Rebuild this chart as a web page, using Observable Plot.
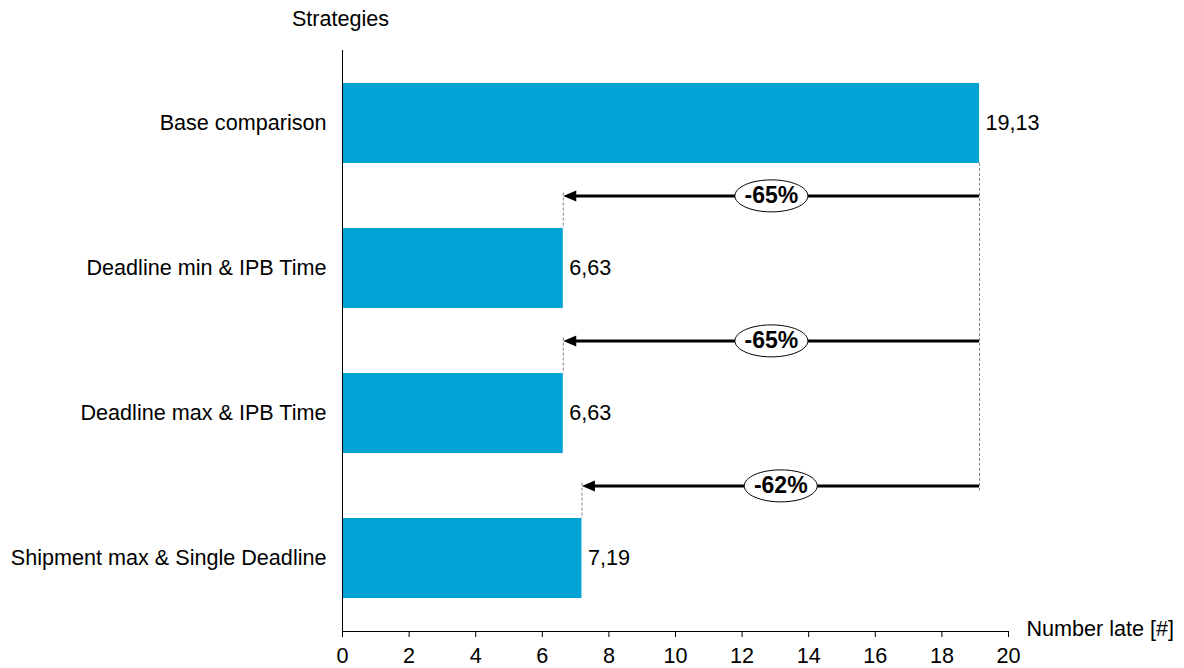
<!DOCTYPE html>
<html>
<head>
<meta charset="utf-8">
<script src="https://cdn.jsdelivr.net/npm/d3@7"></script>
<script src="https://cdn.jsdelivr.net/npm/@observablehq/plot@0.6"></script>
<style>
  body { margin: 0; background: #fff; }
</style>
</head>
<body>
<div id="chart"></div>
<script>
// Strategies and the number of late deliveries for each one
const strategies = [
  "Base comparison",
  "Deadline min & IPB Time",
  "Deadline max & IPB Time",
  "Shipment max & Single Deadline"
];
const numberLate = [19.13, 6.63, 6.63, 7.19];
const xTicks = [0, 2, 4, 6, 8, 10, 12, 14, 16, 18, 20];

const width = 1184, height = 668;
const margin = {top: 50, right: 176, bottom: 37, left: 342};
const barColor = "#00a3d3";
const font = "'Liberation Sans', Arial, Helvetica, sans-serif";

const yOptions = {domain: strategies, paddingInner: 0.45, paddingOuter: 0.225};
// Standalone copy of the y scale, used to place marks between the bands
const yScale = Plot.scale({y: {type: "band", ...yOptions, range: [margin.top, height - margin.bottom]}});
const bw = yScale.bandwidth;
const gap = yScale.step - yScale.bandwidth;
const between = -yScale.step / 2;

const rows = strategies.map((strategy, i) => ({strategy, value: numberLate[i]}));
const base = rows[0];
const changes = rows.slice(1).map((d, i) => ({
  strategy: d.strategy,
  prev: rows[i].strategy,
  value: d.value,
  base: base.value,
  mid: (d.value + base.value) / 2,
  label: `${Math.round((d.value - base.value) / base.value * 100)}%`
}));

const decimalComma = (v) => v.toFixed(2).replace(".", ",");

// Filled arrow head, tip at the origin, pointing left
const arrowHead = {
  draw(ctx) {
    ctx.moveTo(0, 0);
    ctx.lineTo(13, -5.5);
    ctx.lineTo(13, 5.5);
    ctx.closePath();
  }
};

// Ellipse badge behind the percentage labels
const ellipse = {
  draw(ctx) {
    const rx = 36.5, ry = 16, k = 0.5523;
    ctx.moveTo(-rx, 0);
    ctx.bezierCurveTo(-rx, -ry * k, -rx * k, -ry, 0, -ry);
    ctx.bezierCurveTo(rx * k, -ry, rx, -ry * k, rx, 0);
    ctx.bezierCurveTo(rx, ry * k, rx * k, ry, 0, ry);
    ctx.bezierCurveTo(-rx * k, ry, -rx, ry * k, -rx, 0);
    ctx.closePath();
  }
};

const chart = Plot.plot({
  width,
  height,
  marginTop: margin.top,
  marginRight: margin.right,
  marginBottom: margin.bottom,
  marginLeft: margin.left,
  style: {fontFamily: font, fontSize: "21.6px", color: "#000", background: "#fff"},
  x: {domain: [0, 20]},
  y: yOptions,
  marks: [
    Plot.barX(rows, {x: "value", y: "strategy", fill: barColor}),
    Plot.text(rows, {x: "value", y: "strategy", text: (d) => decimalComma(d.value), textAnchor: "start", dx: 6, fill: "#000"}),

    // dashed guides from the base value and down to each bar
    Plot.ruleX([base], {
      x: "value", y1: () => strategies[0], y2: () => strategies[strategies.length - 1],
      insetTop: bw, insetBottom: bw + gap / 2 - 5,
      stroke: "#808080", strokeWidth: 1, strokeDasharray: "3,2"
    }),
    Plot.ruleX(changes, {
      x: "value", y1: "prev", y2: "strategy",
      insetTop: bw + gap / 2 - 3, insetBottom: bw,
      stroke: "#808080", strokeWidth: 1, strokeDasharray: "3,2"
    }),

    // reduction arrows
    Plot.ruleY(changes, {y: "strategy", x1: "value", x2: "base", dy: between, insetLeft: 8, stroke: "#000", strokeWidth: 3}),
    Plot.dot(changes, {x: "value", y: "strategy", dy: between, symbol: arrowHead, fill: "#000", stroke: "none"}),
    Plot.dot(changes, {x: "mid", y: "strategy", dy: between, symbol: ellipse, fill: "#fff", stroke: "#000", strokeWidth: 1}),
    Plot.text(changes, {x: "mid", y: "strategy", dy: between, text: "label", fontWeight: "bold", fontSize: 23, fill: "#000"}),

    // axes
    Plot.ruleX([0], {stroke: "#000", strokeWidth: 1}),
    Plot.frame({anchor: "bottom", stroke: "#000", strokeWidth: 1}),
    Plot.axisX({ticks: xTicks, tickSize: 6, tickPadding: 10, label: null, stroke: "#000"}),
    Plot.axisY({tickSize: 0, tickPadding: 16, label: null}),
    Plot.text(["Strategies"], {frameAnchor: "top-left", text: (d) => d, textAnchor: "middle", dx: -2, dy: -40, fill: "#000"}),
    Plot.text(["Number late [#]"], {frameAnchor: "bottom-right", text: (d) => d, textAnchor: "start", dx: 18, dy: 4, fill: "#000"})
  ]
});

document.getElementById("chart").appendChild(chart);
</script>
</body>
</html>
